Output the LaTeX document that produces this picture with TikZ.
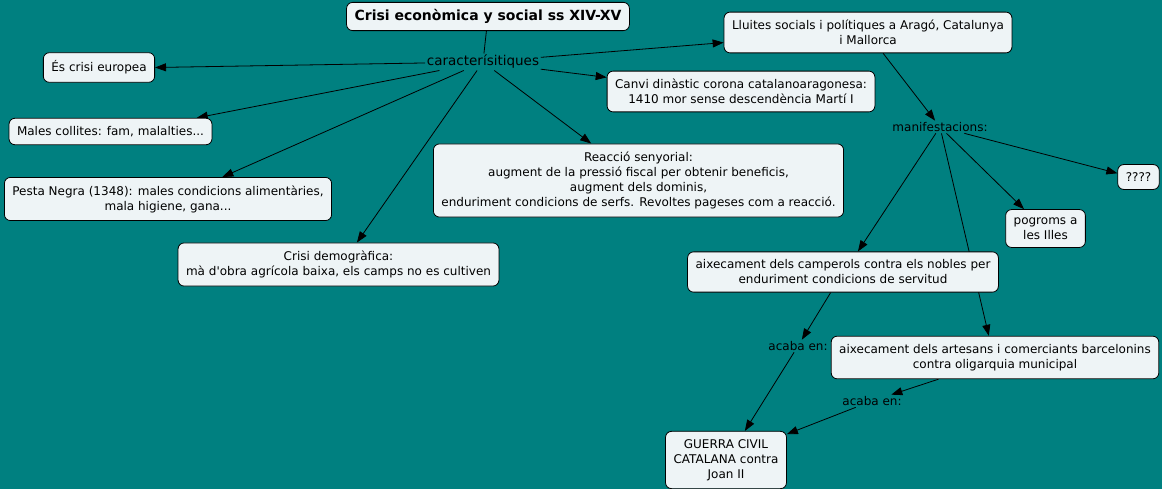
\documentclass[tikz,border=0pt]{standalone}
\usepackage{fontspec}
\setmainfont{DejaVu Sans}[Ligatures=TeXOff]
\usepackage{xcolor}
\usetikzlibrary{arrows.meta, positioning, backgrounds}

\definecolor{mapbg}{RGB}{0,128,128}
\definecolor{boxfill}{RGB}{238,244,246}

\begin{document}
\begin{tikzpicture}[x=1pt, y=-1pt,
    box/.style={rectangle, draw, fill=boxfill, align=center, rounded corners=6pt, inner xsep=8pt, inner ysep=8pt, line width=0.8pt, font=\fontsize{12}{15}\selectfont},
    phrase/.style={inner sep=1.5pt, font=\fontsize{12}{15}\selectfont},
    line/.style={draw, line width=0.8pt, -{Triangle[length=11pt, width=8pt]}}]

    \useasboundingbox (0,0) rectangle (1162,489);

    \node [box, inner ysep=7pt, font=\bfseries\fontsize{14}{17}\selectfont] (title) at (488,16.5) {Crisi econòmica y social ss XIV-XV};
    \node [phrase, font=\fontsize{13.5}{16}\selectfont] (caract) at (483,62) {caracterísitiques};
    \node [box] (europea) at (99,67.5) {És crisi europea};
    \node [box] (collites) at (110.5,131.5) {Males collites: fam, malalties...};
    \node [box] (pesta) at (168,199) {Pesta Negra (1348): males condicions alimentàries,\\mala higiene, gana...};
    \node [box] (demografica) at (338.5,264.5) {Crisi demogràfica:\\mà d'obra agrícola baixa, els camps no es cultiven};
    \node [box] (reaccio) at (638.5,180.5) {Reacció senyorial:\\augment de la pressió fiscal per obtenir beneficis,\\augment dels dominis,\\enduriment condicions de serfs. Revoltes pageses com a reacció.};
    \node [box] (lluites) at (868,32.5) {Lluites socials i polítiques a Aragó, Catalunya\\i Mallorca};
    \node [box] (canvi) at (741,91.5) {Canvi dinàstic corona catalanoaragonesa:\\1410 mor sense descendència Martí I};
    \node [phrase] (manif) at (940,127) {manifestacions:};
    \node [box] (interrog) at (1138.5,177) {????};
    \node [box] (pogroms) at (1045.5,228.5) {pogroms a\\les Illes};
    \node [box] (camperols) at (843,272) {aixecament dels camperols contra els nobles per\\enduriment condicions de servitud};
    \node [phrase] (acaba1) at (798,346) {acaba en:};
    \node [box] (artesans) at (995,357.5) {aixecament dels artesans i comerciants barcelonins\\contra oligarquia municipal};
    \node [phrase] (acaba2) at (872,401) {acaba en:};
    \node [box] (guerra) at (726,460) {GUERRA CIVIL\\CATALANA contra\\Joan II};

    \begin{scope}[on background layer]
        \fill [mapbg] (0,0) rectangle (1162,489);
        \draw [line width=0.8pt] (title) -- (caract);
        \path [line] (caract) -- (europea.east);
        \path [line] (caract) -- (collites.9);
        \path [line] (caract) -- (pesta.22);
        \path [line] (caract) -- (demografica.50);
        \path [line] (caract) -- (reaccio.142);
        \path [line] (caract) -- (lluites.184);
        \path [line] (caract) -- (canvi.174);
        \path [line] (lluites.-54) -- (manif);
        \path [line] (manif) -- (interrog.170);
        \path [line] (manif) -- (pogroms.138);
        \path [line] (manif) -- (camperols.54);
        \path [line] (manif) -- (artesans.106);
        \path [line] (camperols.239) -- (acaba1);
        \path [line] (acaba1) -- (guerra.57);
        \path [line] (artesans.201) -- (acaba2);
        \path [line] (acaba2) -- (guerra.23);
    \end{scope}

\end{tikzpicture}
\end{document}
